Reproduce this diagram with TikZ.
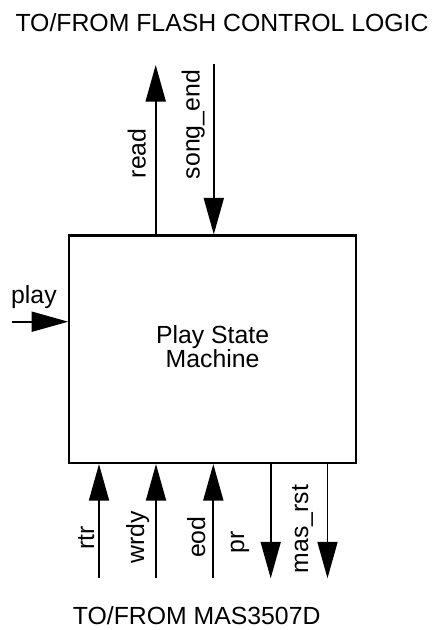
\documentclass[tikz,border=0pt]{standalone}
\usepackage{fontspec}
\setmainfont{Liberation Sans}
\usetikzlibrary{arrows.meta}
\begin{document}
\begin{tikzpicture}[x=1pt, y=-1pt,
  txt/.style={inner sep=0pt, font=\fontsize{24.8}{23.4}\selectfont},
  vlab/.style={txt, rotate=90, anchor=base west},
  sig/.style={line width=1.8pt, -{Triangle[length=36.5pt, width=20pt]}},
  blk/.style={draw, line width=2.2pt, minimum width=286.4pt, minimum height=227.5pt, inner sep=0pt}]
\useasboundingbox (0,0) rectangle (437,630);
% block
\node[blk] (psm) at (212.5,349.25) {};
\node[txt, align=center] (psmtxt) at (212.6,346.5) {Play State\\Machine};
% titles
\node[txt, anchor=base] (top) at (222,31.7) {TO/FROM FLASH CONTROL LOGIC};
\node[txt, anchor=base] (bot) at (196.7,624) {TO/FROM MAS3507D};
% top signals
\coordinate (readEnd) at (155.7,65);
\coordinate (songTop) at (213.8,64);
\draw[sig] (readEnd |- psm.north) -- (readEnd);
\draw[sig] (songTop) -- (songTop |- psm.north);
\node[vlab] (readlab) at (145.7,178.3) {read};
\node[vlab] (songlab) at (199.5,179.3) {song\_end};
% play
\coordinate (playStart) at (12,321.7);
\draw[sig] (playStart) -- (playStart -| psm.west);
\node[txt, anchor=base west] (playlab) at (11,303.3) {play};
% bottom signals
\coordinate (rtrEnd) at (99,578.3);
\coordinate (wrdyEnd) at (156,578.3);
\coordinate (eodEnd) at (213.3,578.3);
\coordinate (prEnd) at (270.7,578.3);
\coordinate (masEnd) at (327.5,578.3);
\draw[sig] (rtrEnd) -- (rtrEnd |- psm.south);
\draw[sig] (wrdyEnd) -- (wrdyEnd |- psm.south);
\draw[sig] (eodEnd) -- (eodEnd |- psm.south);
\draw[sig] (prEnd |- psm.south) -- (prEnd);
\draw[sig] (masEnd |- psm.south) -- (masEnd);
\node[vlab] (rtrlab) at (94,549.5) {rtr};
\node[vlab] (wrdylab) at (144,563.5) {wrdy};
\node[vlab] (eodlab) at (205,558) {eod};
\node[vlab] (prlab) at (244,553.3) {pr};
\node[vlab] (maslab) at (308,573.3) {mas\_rst};
\end{tikzpicture}
\end{document}
